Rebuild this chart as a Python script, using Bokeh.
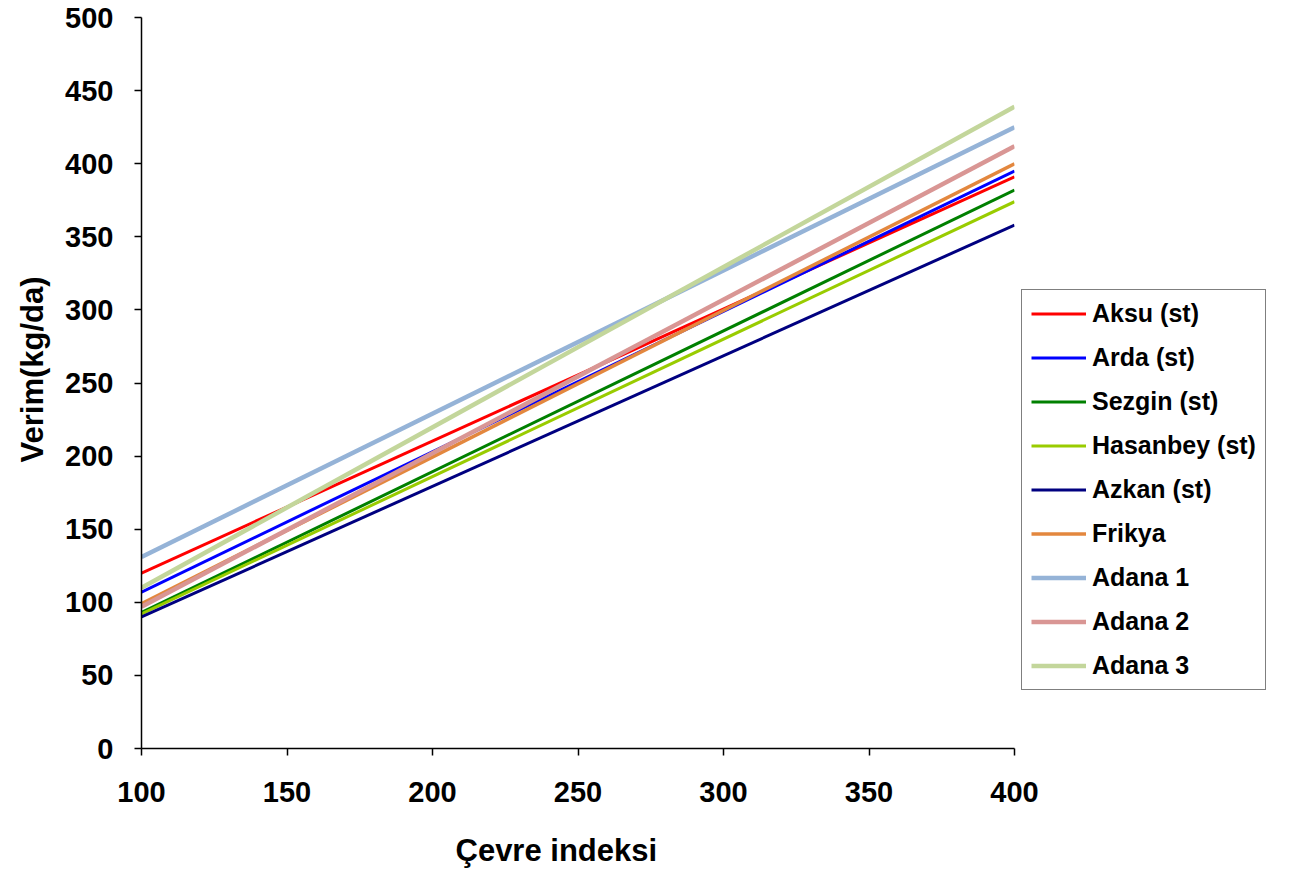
from bokeh.plotting import figure
from bokeh.models import FixedTicker, Legend, LegendItem, Title
from bokeh.embed import file_html
from bokeh.resources import INLINE

x_vals = [100, 400]
names = ["Aksu (st)", "Arda (st)", "Sezgin (st)", "Hasanbey (st)", "Azkan (st)",
         "Frikya", "Adana 1", "Adana 2", "Adana 3"]
aksu = [120, 391]
arda = [107, 395]
sezgin = [93, 382]
hasanbey = [92, 374]
azkan = [90, 358]
frikya = [99, 400]
adana1 = [131, 425]
adana2 = [97, 412]
adana3 = [110, 439]
series = [aksu, arda, sezgin, hasanbey, azkan, frikya, adana1, adana2, adana3]
colors = ["#FF0000", "#0000FF", "#008000", "#99CC00", "#000080",
          "#E3873E", "#95B3D7", "#D99694", "#C3D69B"]
widths = [3, 3, 3, 3, 3, 3.5, 4.5, 4.5, 4.5]
x_ticks = [100, 150, 200, 250, 300, 350, 400]
y_ticks = [0, 50, 100, 150, 200, 250, 300, 350, 400, 450, 500]
x_title = "Çevre indeksi"
y_title = "Verim(kg/da)"

FONT = "Liberation Sans"

p = figure(frame_width=873, frame_height=731, x_range=(100, 400), y_range=(0, 500),
           output_backend="svg", toolbar_location=None,
           min_border_left=141, min_border_top=17, min_border_right=271, min_border_bottom=127)
p.outline_line_color = None
p.xgrid.visible = False
p.ygrid.visible = False

items = []
for nm, s, c, w in zip(names, series, colors, widths):
    r = p.line(x_vals, s, line_color=c, line_width=w)
    items.append(LegendItem(label=nm, renderers=[r]))

for ax in (p.xaxis[0], p.yaxis[0]):
    ax.major_label_text_font = FONT
    ax.major_label_text_font_style = "bold"
    ax.major_label_text_font_size = "29px"
    ax.major_label_text_color = "black"
    ax.axis_line_color = "black"
    ax.axis_line_width = 1.5
    ax.major_tick_line_color = "black"
    ax.major_tick_line_width = 1.5
    ax.major_tick_out = 7
    ax.major_tick_in = 0
    ax.minor_tick_line_color = None

p.xaxis[0].ticker = FixedTicker(ticks=x_ticks)
p.yaxis[0].ticker = FixedTicker(ticks=y_ticks)
p.xaxis[0].major_label_standoff = 26
p.yaxis[0].major_label_standoff = 21

xt = Title(text=x_title, align="left", offset=314, standoff=52,
           text_font=FONT, text_font_style="bold", text_font_size="31px",
           text_color="black")
p.add_layout(xt, "below")

yt = Title(text=y_title, align="left", offset=286, standoff=25,
           text_font=FONT, text_font_style="bold", text_font_size="31px",
           text_color="black")
p.add_layout(yt, "left")

legend = Legend(items=items, location=(7, 58), orientation="vertical",
                label_text_font=FONT, label_text_font_style="bold",
                label_text_font_size="25px", label_text_color="black",
                border_line_color="black", border_line_width=1.5,
                background_fill_alpha=1, glyph_width=55, glyph_height=25,
                spacing=15, padding=9, margin=0, label_standoff=6,
                label_height=25)
p.add_layout(legend, "right")

open("out.html", "w").write(file_html(p, INLINE))
